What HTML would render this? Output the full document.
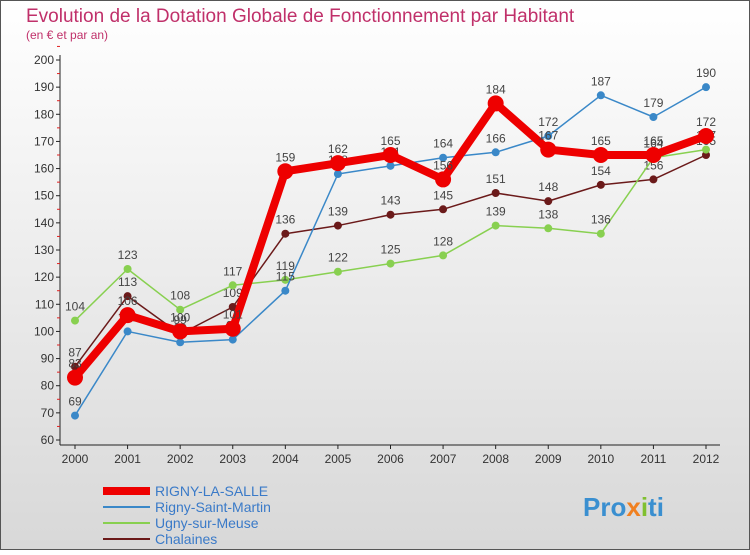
<!DOCTYPE html>
<html><head><meta charset="utf-8"><style>
body{margin:0;width:750px;height:550px;overflow:hidden;font-family:"Liberation Sans",sans-serif}
svg text{font-family:"Liberation Sans",sans-serif}
</style></head><body>
<svg id="c" width="750" height="550" xmlns="http://www.w3.org/2000/svg">
<defs><linearGradient id="bg" x1="0" y1="0" x2="0" y2="1"><stop offset="0" stop-color="#ffffff"/><stop offset="1" stop-color="#d8d8d8"/></linearGradient></defs>
<rect x="0.5" y="0.5" width="749" height="549" fill="url(#bg)" stroke="#555"/>
<text x="26" y="22" font-size="19" fill="#c0306a">Evolution de la Dotation Globale de Fonctionnement par Habitant</text>
<text x="26" y="39" font-size="12" fill="#c0306a">(en € et par an)</text>
<g id="axes"></g><g id="series"></g><g id="legend"></g>
<text x="583" y="516" font-size="26" font-weight="bold" fill="#3a8fd0">Pro<tspan fill="#f08020">x</tspan><tspan fill="#80c030">i</tspan>ti</text>
</svg>
<script>
const years=[2000,2001,2002,2003,2004,2005,2006,2007,2008,2009,2010,2011,2012];
const rignySalle=[83,106,100,101,159,162,165,156,184,167,165,165,172];
const rignyStMartin=[69,100,96,97,115,158,161,164,166,172,187,179,190];
const ugny=[104,123,108,117,119,122,125,128,139,138,136,164,167];
const chalaines=[87,113,99,109,136,139,143,145,151,148,154,156,165];
const yTicks=[60,70,80,90,100,110,120,130,140,150,160,170,180,190,200];
const NS="http://www.w3.org/2000/svg";
const x=i=>75+i*(631/12);
const y=v=>440-(v-60)*380/140;
function mk(t,a,p){const e=document.createElementNS(NS,t);for(const k in a)e.setAttribute(k,a[k]);p.appendChild(e);return e;}
const ax=document.getElementById('axes');
const ya=mk('line',{x1:60,y1:55,x2:60,y2:445,stroke:'#222'},ax);


const xa=mk('line',{x1:60,y1:445,x2:720,y2:445,stroke:'#222'},ax);


yTicks.forEach(v=>{
 mk('line',{x1:56,y1:y(v),x2:60,y2:y(v),stroke:'#222'},ax);
 mk('line',{x1:57,y1:y(v+5),x2:60,y2:y(v+5),stroke:'#e02020'},ax);
 const t=mk('text',{x:54,y:y(v)+4,'text-anchor':'end','font-size':12,fill:'#333'},ax);t.textContent=v;
 
 
});
years.forEach((yr,i)=>{
 mk('line',{x1:x(i),y1:445,x2:x(i),y2:449,stroke:'#222'},ax);
 const t=mk('text',{x:x(i),y:463,'text-anchor':'middle','font-size':12,fill:'#333'},ax);t.textContent=yr;
 
 
});
const sg=document.getElementById('series');
const defs=[
 {d:chalaines,c:'#6b1a1a',w:1.5,r:4,n:'chalaines'},
 {d:ugny,c:'#88d050',w:1.5,r:4,n:'ugny-sur-meuse'},
 {d:rignyStMartin,c:'#3a88c8',w:1.5,r:4,n:'rigny-saint-martin'},
 {d:rignySalle,c:'#ee0000',w:8,r:8,n:'rigny-la-salle'}];
defs.forEach(s=>{
 const g=mk('g',{},sg);
 
 
 const p=mk('polyline',{points:s.d.map((v,i)=>x(i)+','+y(v)).join(' '),fill:'none',stroke:s.c,'stroke-width':s.w,'stroke-linejoin':'round'},g);
 
 
 s.d.forEach((v,i)=>{
  const c=mk('circle',{cx:x(i),cy:y(v),r:s.r,fill:s.c},g);
  
  
  const t=mk('text',{x:x(i),y:y(v)-10,'text-anchor':'middle','font-size':12,fill:'#444'},g);t.textContent=v;
  
  
 });
});
const lg=document.getElementById('legend');
const items=[['RIGNY-LA-SALLE','#ee0000',8],['Rigny-Saint-Martin','#3a88c8',2],['Ugny-sur-Meuse','#88d050',2],['Chalaines','#6b1a1a',2]];
items.forEach((it,i)=>{
 const yy=491+i*16;
 const l=mk('line',{x1:103,y1:yy,x2:150,y2:yy,stroke:it[1],'stroke-width':it[2]},lg);
 
 
 const t=mk('text',{x:155,y:yy+5,'font-size':14,fill:'#3a7ac8'},lg);t.textContent=it[0];
 
 
});
</script>
</body></html>
